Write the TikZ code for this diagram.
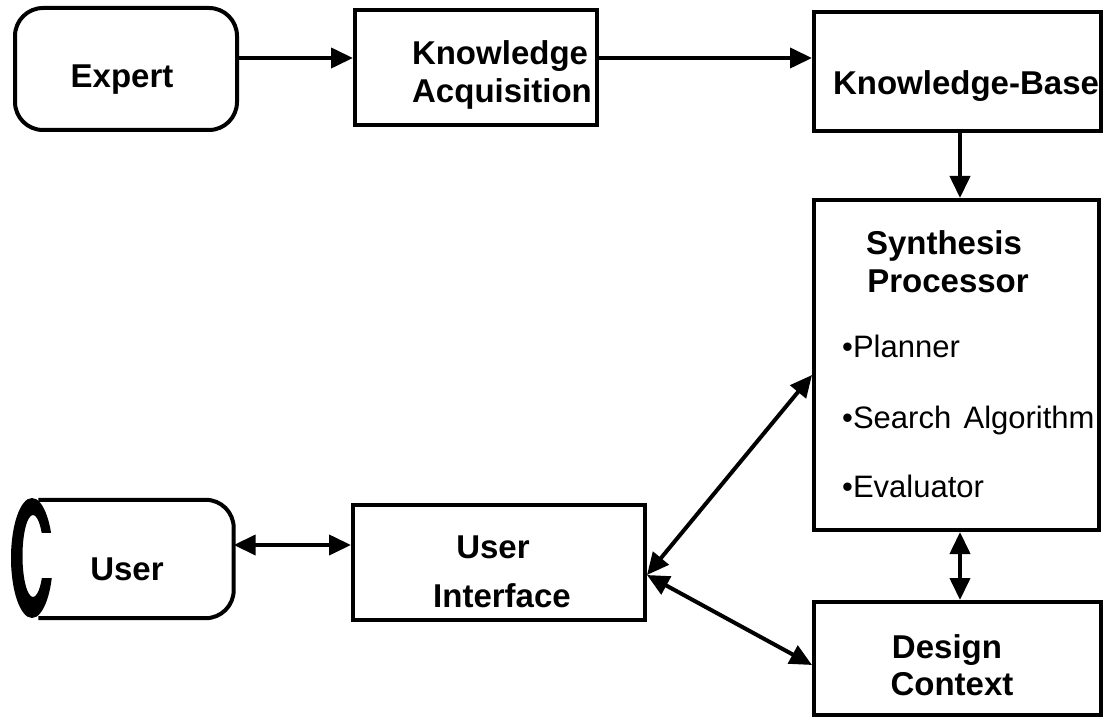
\documentclass[tikz,border=0pt]{standalone}
\usepackage{fontspec}
\setmainfont{Liberation Sans}
\usetikzlibrary{arrows.meta}
\begin{document}
\begin{tikzpicture}[x=1pt,y=-1pt,
  box/.style={draw, line width=4pt, inner sep=0pt},
  arr/.style={line width=4pt, -{Triangle[length=22pt,width=20pt]}},
  arrs/.style={line width=4pt, {Triangle[length=22pt,width=20pt]}-{Triangle[length=22pt,width=20pt]}},
  lbl/.style={font=\fontsize{33}{38}\selectfont\bfseries, anchor=base, inner sep=0pt},
  itm/.style={font=\fontsize{31}{36}\selectfont, anchor=base west, inner sep=0pt}]
\useasboundingbox (0,0) rectangle (1103,719);
% boxes
\node[box, rounded corners=28pt, minimum width=222pt, minimum height=122pt] (Expert) at (126,69) {};
\node[box, minimum width=242pt, minimum height=115pt] (KA) at (476,67.5) {};
\node[box, minimum width=287pt, minimum height=119pt] (KB) at (957.5,71.5) {};
\node[box, minimum width=285pt, minimum height=330pt] (SP) at (956.5,365) {};
\node[box, minimum width=287pt, minimum height=113pt] (DC) at (957.5,658.5) {};
\node[box, minimum width=292pt, minimum height=115pt] (UI) at (499,562.5) {};
\node[inner sep=0pt, minimum width=195pt, minimum height=118pt] (User) at (136,559) {};
\draw[line width=4pt, rounded corners=28pt] (User.north west) -- (User.north east) -- (User.south east) -- (User.south west);
% the C
\fill[even odd rule] (32,558) ellipse [x radius=21, y radius=60] (33,556) ellipse [x radius=10.5, y radius=41];
\fill[white] (38,533) rectangle (56,578);
% connectors
\coordinate (y58) at (0,58);
\coordinate (x960) at (960,0);
\coordinate (y545) at (0,545);
\coordinate (y575) at (0,575);
\coordinate (y375) at (0,375);
\coordinate (y665) at (0,665);
\draw[arr] (Expert.east |- y58) -- (KA.west |- y58);
\draw[arr] (KA.east |- y58) -- (KB.west |- y58);
\draw[arr] (KB.south -| x960) -- (SP.north -| x960);
\draw[arrs] (SP.south -| x960) -- (DC.north -| x960);
\draw[arrs] (User.east |- y545) -- (UI.west |- y545);
\draw[arrs] (UI.east |- y575) -- (SP.west |- y375);
\draw[arrs] (UI.east |- y575) -- (DC.west |- y665);
% texts
\node[lbl] (tExpert) at (122,88) {Expert};
\node[lbl] (tKA1) at (500,65) {Knowledge};
\node[lbl] (tKA2) at (502,103) {Acquisition};
\node[lbl] (tKB) at (966,95) {Knowledge-Base};
\node[lbl] (tSP1) at (944,255) {Synthesis};
\node[lbl] (tSP2) at (948,293) {Processor};
\node[itm] (tP) at (842,357) {•Planner};
\node[itm] (tS) at (842,428) {•Search\hspace{0.4em}Algorithm};
\node[itm] (tE) at (842,497) {•Evaluator};
\node[lbl] (tDC1) at (947,658) {Design};
\node[lbl] (tDC2) at (952,695) {Context};
\node[lbl] (tUI1) at (493,558) {User};
\node[lbl] (tUI2) at (502,607) {Interface};
\node[lbl] (tUser) at (127,580) {User};
\end{tikzpicture}
\end{document}
